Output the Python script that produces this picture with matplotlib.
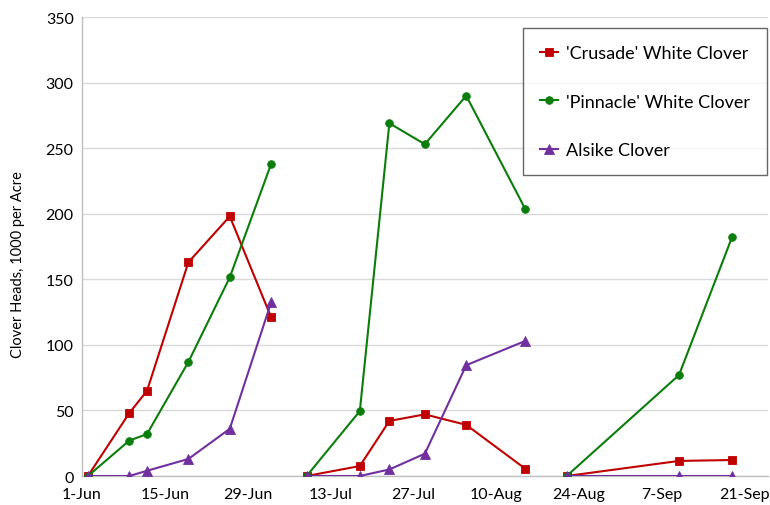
import matplotlib
matplotlib.use("Agg")
import matplotlib.pyplot as plt
import matplotlib.dates as mdates
from matplotlib.ticker import FuncFormatter, MultipleLocator
from datetime import datetime, timedelta

plt.rcParams['font.family'] = ['Lato', 'DejaVu Sans']

# ---- data ----
dates = ['2015-06-02', '2015-06-09', '2015-06-12', '2015-06-19', '2015-06-26', '2015-07-03',
         '2015-07-09', '2015-07-18', '2015-07-23', '2015-07-29', '2015-08-05', '2015-08-15',
         '2015-08-22', '2015-09-10', '2015-09-19']
period = [1, 1, 1, 1, 1, 1,
          2, 2, 2, 2, 2, 2,
          3, 3, 3]
crusade = [0, 48, 65, 163, 198, 121,
           0, 7.6, 42, 47, 39, 5.5,
           0, 11.5, 12.2]
pinnacle = [0, 27, 32, 87, 151.5, 238,
            0, 49.5, 269, 253, 290, 203.5,
            0, 77, 182.5]
alsike = [0, 0, 4, 13, 36, 132.5,
          0, 0, 5, 17, 84.5, 103,
          0, 0, 0]
series_names = ["'Crusade' White Clover", "'Pinnacle' White Clover", "Alsike Clover"]
y_label = "Clover Heads, 1000 per Acre"
x_start = '2015-06-01'
x_end = '2015-09-25'

# ---- plot ----
dts = [datetime.strptime(d, '%Y-%m-%d') for d in dates]
fig = plt.figure(figsize=(7.70, 5.06), dpi=100)
ax = fig.add_axes([0.1065, 0.0573, 0.8905, 0.9071])

styles = [
    dict(color='#C00000', marker='s', markersize=6),
    dict(color='#0A7D0A', marker='o', markersize=5.5),
    dict(color='#7030A0', marker='^', markersize=7),
]
for vals, name, st in zip([crusade, pinnacle, alsike], series_names, styles):
    first = True
    for p in sorted(set(period)):
        xs = [d for d, q in zip(dts, period) if q == p]
        ys = [v for v, q in zip(vals, period) if q == p]
        ax.plot(xs, ys, linewidth=1.5, label=name if first else None,
                markeredgewidth=0.6, zorder=3, **st)
        first = False

x0 = datetime.strptime(x_start, '%Y-%m-%d')
x1 = datetime.strptime(x_end, '%Y-%m-%d')
ax.set_xlim(x0, x1)
ax.set_ylim(0, 350)
ticks = [x0 + timedelta(days=14 * i) for i in range(9)]
ax.set_xticks(ticks)
ax.xaxis.set_major_formatter(FuncFormatter(
    lambda v, pos: (lambda d: f"{d.day}-{d.strftime('%b')}")(mdates.num2date(v))))
ax.yaxis.set_major_locator(MultipleLocator(50))

ax.grid(axis='y', color='#d9d9d9', linewidth=1)
ax.set_axisbelow(True)
for s in ['top', 'right']:
    ax.spines[s].set_visible(False)
for s in ['left', 'bottom']:
    ax.spines[s].set_color('#bfbfbf')
    ax.spines[s].set_linewidth(1)
ax.tick_params(length=0, labelsize=11.5, colors='#000000', pad=8)
ax.tick_params(axis='y', pad=6)
ax.set_ylabel(y_label, fontsize=10.5)
ax.yaxis.set_label_coords(-0.083, 0.462)

leg = ax.legend(loc='upper left', bbox_to_anchor=(0.6425, 0.976), frameon=True,
                fancybox=False, edgecolor='#404040', fontsize=13,
                handlelength=1.0, handletextpad=0.45, labelspacing=1.8,
                borderpad=0.95, borderaxespad=0)
leg.get_frame().set_linewidth(1)

fig.savefig('out.png', dpi=100)
